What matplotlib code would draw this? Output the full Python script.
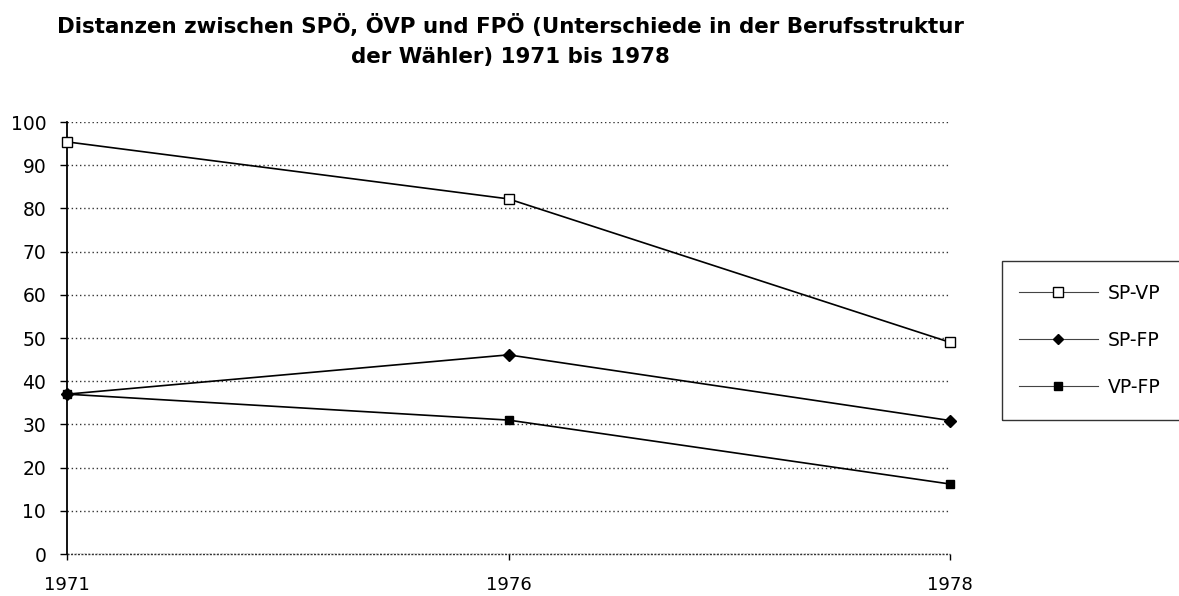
import matplotlib
matplotlib.use("Agg")
import matplotlib.pyplot as plt
from matplotlib.lines import Line2D
from matplotlib.patches import Rectangle

years = ["1971", "1976", "1978"]
sp_vp = [95.4, 82.2, 49.0]
sp_fp = [37.0, 46.1, 30.9]
vp_fp = [37.0, 31.0, 16.2]
labels = ["SP-VP", "SP-FP", "VP-FP"]
title_1 = "Distanzen zwischen SPÖ, ÖVP und FPÖ (Unterschiede in der Berufsstruktur"
title_2 = "der Wähler) 1971 bis 1978"

plt.rcParams['font.family'] = ['DejaVu Sans']
W, H = 1179, 596
fig = plt.figure(figsize=(W/100, H/100), dpi=100)
ax = fig.add_axes([67/W, 1-554/H, (950-67)/W, (554-122)/H])

x = list(range(len(years)))
ax.plot(x, sp_vp, color='black', lw=1.2, marker='s', ms=7.5, mfc='white', mec='black', mew=1.0, zorder=3, clip_on=False)
ax.plot(x, sp_fp, color='black', lw=1.2, marker='D', ms=6.3, mfc='black', mec='black', zorder=3, clip_on=False)
ax.plot(x, vp_fp, color='black', lw=1.2, marker='s', ms=6.3, mfc='black', mec='black', zorder=3, clip_on=False)

ax.set_xlim(0, 2)
ax.set_ylim(0, 100)
ax.set_xticks(x)
ax.set_xticklabels(years)
ax.set_yticks(range(0, 101, 10))
ax.tick_params(axis='both', labelsize=13.5, colors='black')
ax.tick_params(axis='y', direction='out', length=5, width=1, pad=10)
ax.tick_params(axis='x', direction='out', length=4, width=1, pad=12, labelsize=13)
for s in ['top', 'right', 'bottom']:
    ax.spines[s].set_visible(False)
ax.spines['left'].set_linewidth(1.3)
ax.yaxis.grid(True, linestyle=(0, (1, 2)), color='#333333', lw=1.0)
ax.set_axisbelow(True)
ax.axhline(0, color='#333333', lw=1.0, linestyle=(0, (1.5, 1)), zorder=2, clip_on=False)

fig.text(510/W, 1-33/H, title_1, ha='center', va='baseline', fontsize=15.4, fontweight='bold')
fig.text(510/W, 1-63/H, title_2, ha='center', va='baseline', fontsize=15.4, fontweight='bold')

# legend box
fig.patches.append(Rectangle((1002/W, 1-420/H), 200/W, (420-261)/H,
                             transform=fig.transFigure, fill=False,
                             edgecolor='#333333', lw=1.0))
handles = [
    Line2D([], [], color='#444444', lw=0.8, marker='s', ms=7, mfc='white', mec='black'),
    Line2D([], [], color='#444444', lw=0.8, marker='D', ms=5, mfc='black', mec='black'),
    Line2D([], [], color='#444444', lw=0.8, marker='s', ms=6, mfc='black', mec='black'),
]
fig.legend(handles, labels, loc='upper left', bbox_to_anchor=(1019/W, 1-284/H),
           frameon=False, fontsize=13.5, handlelength=4.2, handletextpad=0.53,
           labelspacing=1.49, borderpad=0, borderaxespad=0)

fig.savefig('out.png', dpi=100)
